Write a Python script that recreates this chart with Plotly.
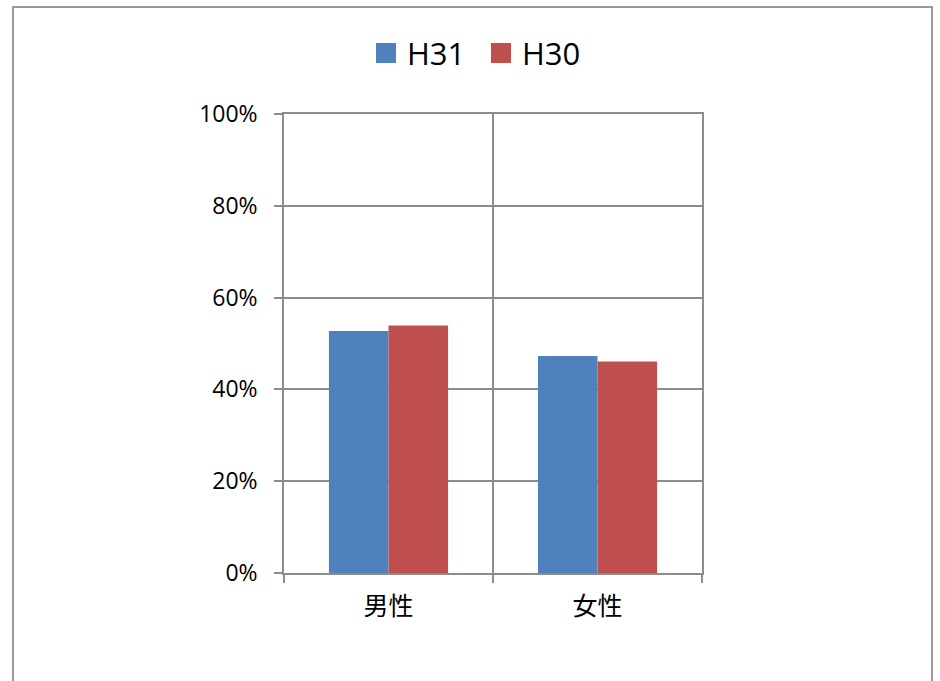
import plotly.graph_objects as go

categories = ["男性", "女性"]
series_names = ["H31", "H30"]
h31_values = [52.7, 47.3]
h30_values = [53.9, 46.1]
colors = ["#4F81BD", "#C0504D"]
y_ticks = [0, 20, 40, 60, 80, 100]
y_tick_labels = ["0%", "20%", "40%", "60%", "80%", "100%"]

W, H = 940, 681
L, R, T, B = 284, 238, 114, 108
pw, ph = W - L - R, H - T - B

fig = go.Figure()
for name, vals, col in zip(series_names, [h31_values, h30_values], colors):
    fig.add_trace(go.Bar(x=categories, y=vals, name=name, marker_color=col,
                         marker_line_width=0, showlegend=False))

def px_x(p):
    return (p - L) / pw

def px_y(p):
    return (H - B - p) / ph

# outer chart border
fig.add_shape(type="rect", xref="paper", yref="paper",
              x0=px_x(13), x1=px_x(932), y0=px_y(700), y1=px_y(7),
              line=dict(color="#9a9a9a", width=2), fillcolor="rgba(0,0,0,0)", layer="below")

# legend (drawn with shapes + text so the swatches match the reference size)
legend_items = [(376, 408), (491, 523)]
for (sx, tx), name, col in zip(legend_items, series_names, colors):
    fig.add_shape(type="rect", xref="paper", yref="paper",
                  x0=px_x(sx), x1=px_x(sx + 20), y0=px_y(63), y1=px_y(43),
                  line=dict(width=0), fillcolor=col)
    fig.add_annotation(xref="paper", yref="paper", x=px_x(tx - 3), y=px_y(53.5),
                       xanchor="left", yanchor="middle", showarrow=False, text=name,
                       font=dict(size=31, family="Open Sans", color="black"))

fig.update_layout(
    width=W, height=H,
    margin=dict(l=L, r=R, t=T, b=B, pad=0),
    paper_bgcolor="white", plot_bgcolor="white",
    barmode="group", bargap=0.43, bargroupgap=0,
    showlegend=False,
    font=dict(family="Liberation Sans, Noto Sans CJK JP", color="black"),
    xaxis=dict(type="category", tickson="boundaries", showgrid=True, gridcolor="#8c8c8c",
               gridwidth=1.5, ticks="outside", ticklen=8, tickcolor="#8c8c8c", tickwidth=1.5,
               showline=True, linecolor="#8c8c8c", linewidth=1.5, mirror=True,
               tickfont=dict(size=25, family="Noto Sans CJK JP"), ticklabelstandoff=10),
    yaxis=dict(range=[0, 100], tickvals=y_ticks, ticktext=y_tick_labels, showgrid=True,
               gridcolor="#8c8c8c", gridwidth=1.5, ticks="outside", ticklen=8,
               tickcolor="#8c8c8c", tickwidth=1.5, showline=True, linecolor="#8c8c8c",
               linewidth=1.5, zeroline=False, mirror=True,
               tickfont=dict(size=23, family="Open Sans"), ticklabelstandoff=12),
)
fig.write_html("out.html")
